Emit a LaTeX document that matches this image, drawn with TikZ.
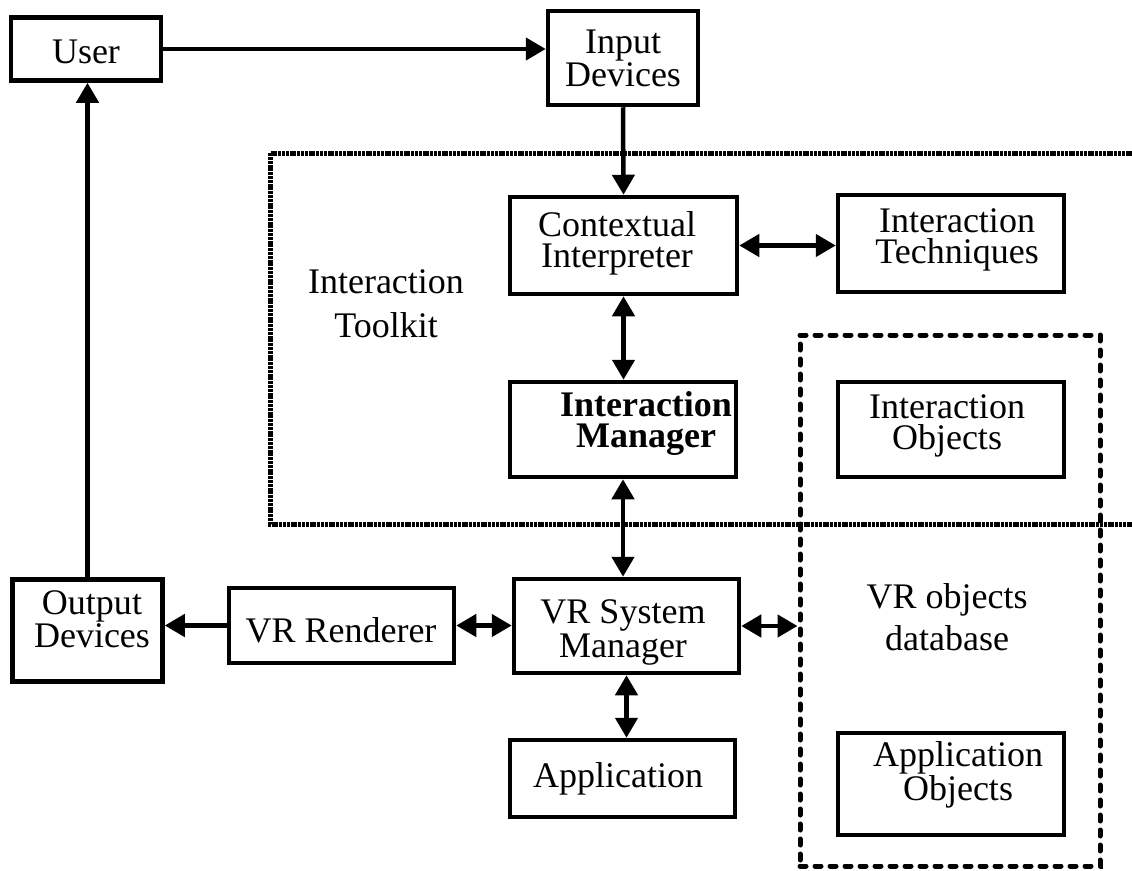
\documentclass[tikz,border=0pt]{standalone}
\usepackage{fontspec}
\setmainfont{Liberation Serif}
\usetikzlibrary{arrows.meta}

\tikzset{
  box/.style={draw, line width=4.5pt, inner sep=0pt, outer sep=2.25pt},
  lbl/.style={inner sep=0pt, align=center, font=\fontsize{36}{31}\selectfont},
  conn/.style={line width=4.5pt, -{Triangle[length=20pt,width=22pt]}},
  both/.style={line width=4.5pt, {Triangle[length=20pt,width=22pt]}-{Triangle[length=20pt,width=22pt]}},
  frame/.style={line width=5pt, dash pattern=on 3pt off 0.8pt},
  dbbox/.style={draw, line width=5pt, dash pattern=on 6pt off 9pt, line cap=round, inner sep=0pt, outer sep=2.5pt},
}

\begin{document}
\begin{tikzpicture}[x=1pt,y=1pt,yscale=-1,xscale=1]
\useasboundingbox (0,0) rectangle (1132,870);

%Shape: Rectangle [user]
\node[box, minimum width=150pt, minimum height=63pt] (user) at (86,49) {};
%Shape: Rectangle [input]
\node[box, minimum width=150pt, minimum height=94pt] (input) at (623,58) {};
%Shape: Rectangle [ci]
\node[box, minimum width=227pt, minimum height=97pt] (ci) at (623.5,245.5) {};
%Shape: Rectangle [it]
\node[box, minimum width=226pt, minimum height=97pt] (it) at (951,243.5) {};
%Shape: Rectangle [im]
\node[box, minimum width=226pt, minimum height=95pt] (im) at (623,429.5) {};
%Shape: Rectangle [io]
\node[box, minimum width=226pt, minimum height=95pt] (io) at (951,429.5) {};
%Shape: Rectangle [vrsm]
\node[box, minimum width=225pt, minimum height=94pt] (vrsm) at (626.5,626) {};
%Shape: Rectangle [vrr]
\node[box, minimum width=225pt, minimum height=75pt] (vrr) at (341.5,625.5) {};
%Shape: Rectangle [out]
\node[box, minimum width=150pt, minimum height=102pt] (out) at (87.5,630.5) {};
%Shape: Rectangle [app]
\node[box, minimum width=225pt, minimum height=77pt] (app) at (622.5,778.5) {};
%Shape: Rectangle [ao]
\node[box, minimum width=226pt, minimum height=102pt] (ao) at (951,784) {};

%Shape: Dashed Rectangle [db]
\node[dbbox, minimum width=300pt, minimum height=531pt] (db) at (950,600.5) {};
%Shape: Dotted Frame (open to the right)
\draw[frame] (1140,153) -| (270,524) -- (1140,524);

%Straight Lines
\draw[conn] (user.east) -- (user.east -| input.west);
\draw[conn] (input.south) -- (ci.north);
\draw[both] (ci.east) -- (ci.east -| it.west);
\draw[both] (ci.south) -- (ci.south |- im.north);
\draw[both] (im.south) -- (im.south |- vrsm.north);
\draw[both] (vrsm.south) -- (vrsm.south |- app.north);
\draw[both] (vrr.east) -- (vrr.east -| vrsm.west);
\draw[conn] (vrr.west) -- (vrr.west -| out.east);
\draw[conn] (out.north) -- (out.north |- user.south);
\draw[both] (vrsm.east) -- (vrsm.east -| db.west);

% Text Node (base = last line)
\node[lbl, anchor=base] (usertxt) at (86,63) {User};
% Text Node
\node[lbl, anchor=base] (inputtxt) at (623,86) {Input\\Devices};
% Text Node
\node[lbl, anchor=base] (citxt) at (617,267) {Contextual\\Interpreter};
% Text Node
\node[lbl, anchor=base] (ittxt) at (957,263) {Interaction\\Techniques};
% Text Node
\node[lbl, anchor=base, font=\fontsize{36}{44}\selectfont] (kittxt) at (386,337) {Interaction\\Toolkit};
% Text Node
\node[lbl, anchor=base, font=\fontsize{36}{31}\selectfont\bfseries] (imtxt) at (646,447) {Interaction\\Manager};
% Text Node
\node[lbl, anchor=base] (iotxt) at (947,449) {Interaction\\Objects};
% Text Node
\node[lbl, anchor=base] (vrrtxt) at (341,642) {VR Renderer};
% Text Node
\node[lbl, anchor=base, font=\fontsize{36}{34}\selectfont] (vrsmtxt) at (623,657) {VR System\\Manager};
% Text Node
\node[lbl, anchor=base] (outtxt) at (92,647) {Output\\Devices};
% Text Node
\node[lbl, anchor=base] (apptxt) at (618,787) {Application};
% Text Node
\node[lbl, anchor=base, font=\fontsize{36}{42}\selectfont] (dbtxt) at (947,650) {VR objects\\database};
% Text Node
\node[lbl, anchor=base] (aotxt) at (958,800) {Application\\Objects};
\end{tikzpicture}
\end{document}
